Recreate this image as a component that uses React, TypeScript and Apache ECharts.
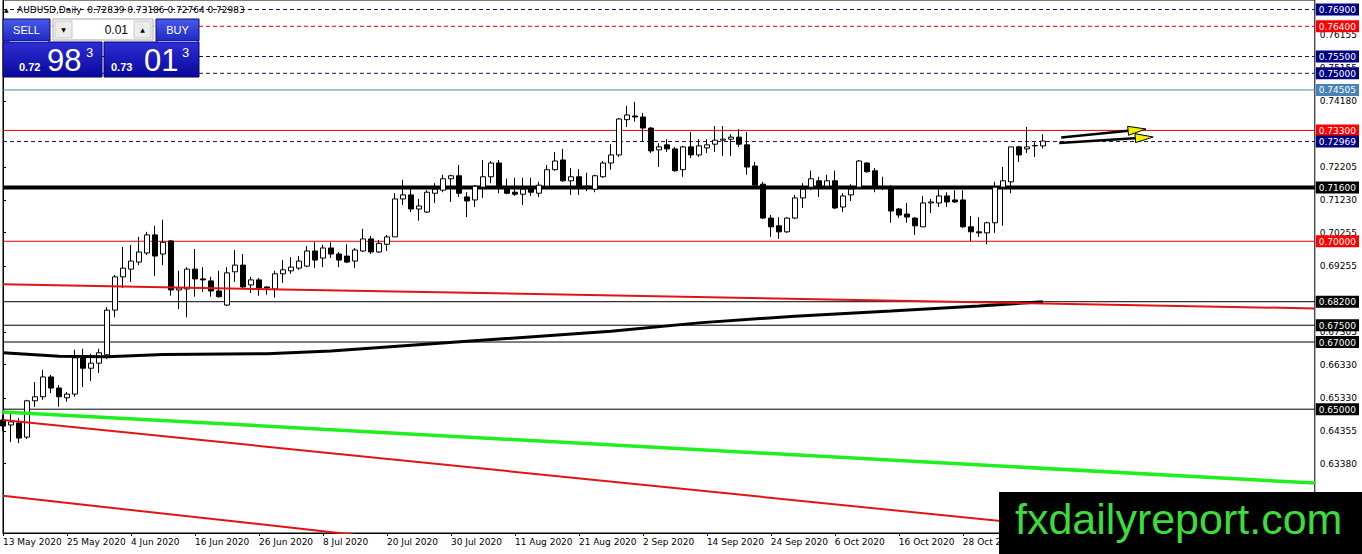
import React, { useEffect, useRef } from "react";
import * as echarts from "echarts";

// ---------- data ----------
const opens = [
  0.6468, 0.6453, 0.6459, 0.6417, 0.6525, 0.6537, 0.6596, 0.6563, 0.6534, 0.6545,
  0.6653, 0.6622, 0.6637, 0.6662, 0.6795, 0.6894, 0.6917, 0.6938, 0.6965, 0.7019,
  0.6962, 0.7001, 0.6855, 0.6858, 0.6917, 0.6888, 0.6882, 0.6852, 0.681, 0.6909,
  0.6929, 0.687, 0.6885, 0.6864, 0.6858, 0.6903, 0.6912, 0.692, 0.6926, 0.6971,
  0.695, 0.698, 0.6962, 0.6956, 0.6941, 0.6971, 0.7007, 0.6968, 0.6991, 0.7013,
  0.7126, 0.7138, 0.7096, 0.7087, 0.7143, 0.7152, 0.7186, 0.7195, 0.7132, 0.7123,
  0.7161, 0.7192, 0.7233, 0.7155, 0.7146, 0.714, 0.7155, 0.7143, 0.7164, 0.7213,
  0.7242, 0.718, 0.7192, 0.7164, 0.7155, 0.7192, 0.7233, 0.7257, 0.7362, 0.7373,
  0.737, 0.7337, 0.7272, 0.7287, 0.7275, 0.7213, 0.7281, 0.7257, 0.7278, 0.7289,
  0.7301, 0.7304, 0.731, 0.7287, 0.7224, 0.717, 0.7069, 0.7046, 0.7028, 0.7069,
  0.7129, 0.7161, 0.718, 0.7164, 0.718, 0.7102, 0.7138, 0.7161, 0.7233, 0.721,
  0.7161, 0.7158, 0.7096, 0.7081, 0.7069, 0.7043, 0.7114, 0.7114, 0.7135, 0.7123,
  0.7123, 0.7043, 0.7028, 0.7025, 0.7055, 0.7161, 0.7177, 0.7281, 0.7275, 0.7284,
  0.72839,
];
const closes = [
  0.645, 0.6462, 0.6414, 0.6525, 0.6537, 0.6596, 0.6563, 0.6537, 0.6545, 0.6653,
  0.6622, 0.6637, 0.6668, 0.6795, 0.6894, 0.692, 0.6941, 0.6968, 0.7019, 0.6956,
  0.6997, 0.6855, 0.6861, 0.6917, 0.6888, 0.6885, 0.6852, 0.6835, 0.6906, 0.6929,
  0.6864, 0.6885, 0.6861, 0.6861, 0.6903, 0.6915, 0.6923, 0.6941, 0.6971, 0.6944,
  0.698, 0.6962, 0.6944, 0.6938, 0.6974, 0.7007, 0.6968, 0.6994, 0.7013, 0.7126,
  0.7138, 0.7096, 0.7105, 0.7146, 0.7155, 0.7186, 0.7195, 0.7143, 0.712, 0.7164,
  0.7192, 0.7233, 0.7158, 0.7143, 0.714, 0.7155, 0.7146, 0.7167, 0.7213, 0.7239,
  0.718, 0.7192, 0.7158, 0.7161, 0.7195, 0.7233, 0.7257, 0.7364, 0.7376, 0.737,
  0.7337, 0.7269, 0.7281, 0.7275, 0.721, 0.7281, 0.7257, 0.7284, 0.7287, 0.7301,
  0.7304, 0.731, 0.7289, 0.7221, 0.7167, 0.7069, 0.7043, 0.7028, 0.7069, 0.7129,
  0.7155, 0.7186, 0.7161, 0.718, 0.7099, 0.7135, 0.7155, 0.7239, 0.7207, 0.7158,
  0.7159, 0.709, 0.7078, 0.7072, 0.7046, 0.7114, 0.7117, 0.7135, 0.7117, 0.7117,
  0.7043, 0.7028, 0.7025, 0.7055, 0.7161, 0.718, 0.7281, 0.7257, 0.7281, 0.7285,
  0.72983,
];
const lows = [
  0.6435, 0.6402, 0.6399, 0.6411, 0.6507, 0.6528, 0.6548, 0.6507, 0.6522, 0.6537,
  0.6566, 0.6584, 0.6608, 0.6649, 0.6774, 0.6861, 0.6879, 0.6929, 0.6959, 0.6897,
  0.6929, 0.6838, 0.6798, 0.6774, 0.6835, 0.6849, 0.6835, 0.6832, 0.6807, 0.6879,
  0.6861, 0.6846, 0.6838, 0.6841, 0.6832, 0.6876, 0.6903, 0.6915, 0.6923, 0.692,
  0.6923, 0.695, 0.6923, 0.6935, 0.692, 0.6968, 0.6962, 0.6965, 0.6971, 0.7013,
  0.7108, 0.7087, 0.7061, 0.7084, 0.7114, 0.7146, 0.7117, 0.7132, 0.7072, 0.7102,
  0.7129, 0.7173, 0.7143, 0.714, 0.7135, 0.7108, 0.7135, 0.7132, 0.7158, 0.721,
  0.7177, 0.7138, 0.7138, 0.7149, 0.7146, 0.7189, 0.7213, 0.7251, 0.734, 0.7356,
  0.7298, 0.7263, 0.7221, 0.7266, 0.7207, 0.7192, 0.7248, 0.7251, 0.7263, 0.7266,
  0.7254, 0.7254, 0.7281, 0.7198, 0.7161, 0.7066, 0.7013, 0.7007, 0.7025, 0.7066,
  0.7099, 0.7152, 0.7132, 0.7158, 0.7096, 0.7087, 0.712, 0.7161, 0.7204, 0.7146,
  0.7152, 0.7055, 0.7069, 0.7055, 0.7019, 0.7043, 0.7084, 0.7102, 0.7102, 0.7114,
  0.704, 0.7001, 0.7013, 0.6991, 0.7025, 0.7046, 0.7143, 0.7236, 0.7263, 0.7251,
  0.72764,
];
const highs = [
  0.6483, 0.6489, 0.6474, 0.6528, 0.6581, 0.6617, 0.6602, 0.6572, 0.6551, 0.6677,
  0.668, 0.6665, 0.668, 0.6804, 0.69, 0.6983, 0.6989, 0.7013, 0.7028, 0.7046,
  0.7064, 0.7004, 0.6912, 0.6923, 0.6977, 0.6923, 0.6894, 0.6912, 0.6923, 0.6974,
  0.6962, 0.6894, 0.6891, 0.6865, 0.6912, 0.6944, 0.6953, 0.6956, 0.6986, 0.6997,
  0.6989, 0.6997, 0.6968, 0.6991, 0.698, 0.7037, 0.7016, 0.7004, 0.7019, 0.7143,
  0.7183, 0.7161, 0.7126, 0.7152, 0.7173, 0.7198, 0.7198, 0.7227, 0.7146, 0.7167,
  0.7242, 0.7239, 0.7242, 0.7186, 0.7189, 0.7189, 0.7189, 0.7177, 0.7227, 0.7266,
  0.7275, 0.7218, 0.7215, 0.7204, 0.7198, 0.7239, 0.7289, 0.7367, 0.7403, 0.7415,
  0.7382, 0.734, 0.7292, 0.7304, 0.7281, 0.7284, 0.7325, 0.7304, 0.7304, 0.7343,
  0.7343, 0.7319, 0.7334, 0.7325, 0.7236, 0.7177, 0.7078, 0.7072, 0.7072, 0.7138,
  0.7173, 0.721, 0.7192, 0.7198, 0.721, 0.7143, 0.717, 0.7242, 0.7235, 0.7218,
  0.7192, 0.7167, 0.7099, 0.7114, 0.7072, 0.7135, 0.7126, 0.7155, 0.7146, 0.7152,
  0.7152, 0.7075, 0.7072, 0.7058, 0.7177, 0.7221, 0.7281, 0.7284, 0.734, 0.7295,
  0.73186,
];

// date tick labels, one every 8 bars
const dateTicks = [
  "13 May 2020", "25 May 2020", "4 Jun 2020", "16 Jun 2020", "26 Jun 2020", "8 Jul 2020",
  "20 Jul 2020", "30 Jul 2020", "11 Aug 2020", "21 Aug 2020", "2 Sep 2020", "14 Sep 2020",
  "24 Sep 2020", "6 Oct 2020", "16 Oct 2020", "28 Oct 2020",
];
const BARS_PER_TICK = 8;
const SLOT_COUNT = 165; // bars + empty right shift area

// price axis tick labels (those visible in the picture)
const priceTicks = [
  0.76155, 0.75155, 0.7418, 0.72205, 0.7123, 0.70255, 0.69255, 0.67305,
  0.6633, 0.6533, 0.64355, 0.6338,
];

// horizontal levels
const levelPrices = [0.769, 0.764, 0.755, 0.75, 0.74505, 0.733, 0.72969, 0.716, 0.7, 0.682, 0.675, 0.67, 0.65];
const levelKinds = [
  "navyDash", "redDash", "navyDash", "navyDash", "steel", "red", "navyDash", "blackThick",
  "red", "black", "black", "black", "black",
];

// moving average (sampled along the bars)
const maBars = [0, 7, 13, 20, 33, 41, 58, 76, 87, 99, 111, 122, 130];
const maValues = [0.6668, 0.6658, 0.6656, 0.6663, 0.6665, 0.6673, 0.6702, 0.6732, 0.6757, 0.6777, 0.6792, 0.6807, 0.682];

// trend lines: start bar / end bar with prices
const trendStartBar = 0;
const trendEndBar = 164;
const trendNames = ["redUpper", "green", "redMid", "redLow"];
const trendStartPrices = [0.6872, 0.6492, 0.6468, 0.6242];
const trendEndPrices = [0.68, 0.628, 0.6072, 0.581];
const trendColors = ["#e01414", "#1ef01e", "#e01414", "#e01414"];
const trendWidths = [2, 3.5, 2, 2];

// arrows
const arrowFromBars = [132.3, 132.05];
const arrowFromPrices = [0.73089, 0.72925];
const arrowToBars = [142.9, 143.8];
const arrowToPrices = [0.73342, 0.73104];

const bidPrice = "0.72983";
const askPrice = "0.73013";

// ---------- styling ----------
const FONT = '"DejaVu Sans", sans-serif';
const Y_MIN = 0.613141;
const Y_MAX = 0.771828;

const kindLine: Record<string, any> = {
  navyDash: { color: "#14145e", width: 1, type: [4, 3] },
  redDash: { color: "#e00000", width: 1, type: [4, 3] },
  steel: { color: "#4682b4", width: 1, type: "solid" },
  red: { color: "#e00000", width: 1, type: "solid" },
  blackThick: { color: "#000000", width: 4, type: "solid" },
  black: { color: "#000000", width: 1, type: "solid" },
};
const kindBg: Record<string, string> = {
  navyDash: "#000080",
  redDash: "#ff0000",
  steel: "#4682b4",
  red: "#ff0000",
  blackThick: "#000000",
  black: "#000000",
};

function buildOption() {
  const categories = Array.from({ length: SLOT_COUNT }, (_, i) => String(i));
  const candleData = opens.map((o, i) => [o, closes[i], lows[i], highs[i]]);

  const rich: Record<string, any> = {};
  Object.keys(kindBg).forEach((k) => {
    rich[k] = {
      backgroundColor: kindBg[k],
      color: "#ffffff",
      padding: [2, 3, 1, 3],
      fontSize: 9,
      fontFamily: FONT,
      lineHeight: 10,
    };
  });

  const levelSeries = levelPrices.map((p, i) => ({
    type: "line",
    xAxisIndex: 1,
    yAxisIndex: 0,
    data: [
      [0, p],
      [SLOT_COUNT - 1, p],
    ],
    symbol: "none",
    silent: true,
    z: 1,
    lineStyle: kindLine[levelKinds[i]],
  }));

  const trendSeries = trendNames.map((n, i) => ({
    name: n,
    type: "line",
    xAxisIndex: 1,
    yAxisIndex: 0,
    data: [
      [trendStartBar, trendStartPrices[i]],
      [trendEndBar, trendEndPrices[i]],
    ],
    symbol: "none",
    silent: true,
    clip: true,
    z: 3,
    lineStyle: { color: trendColors[i], width: trendWidths[i] },
  }));

  const last = opens.length - 1;
  const title =
    "AUDUSD,Daily  " +
    [opens[last], highs[last], lows[last], closes[last]].map((v) => v.toFixed(5)).join(" ");

  const grad = (a: string, b: string) =>
    new echarts.graphic.LinearGradient(0, 0, 0, 1, [
      { offset: 0, color: a },
      { offset: 1, color: b },
    ]);

  const txt = (x: number, y: number, text: string, font: string, fill: string, align = "left") => ({
    type: "text",
    x,
    y,
    z: 100,
    silent: true,
    style: {
      text,
      font,
      fill,
      align,
      textAlign: align,
      verticalAlign: "middle",
      textVerticalAlign: "middle",
    },
  });

  const bidHead = bidPrice.slice(0, 4);
  const bidBig = bidPrice.slice(4, 6);
  const bidPip = bidPrice.slice(6);
  const askHead = askPrice.slice(0, 4);
  const askBig = askPrice.slice(4, 6);
  const askPip = askPrice.slice(6);

  const graphics: any[] = [
    txt(4, 9.5, "▲", '6px "DejaVu Sans"', "#000"),
    txt(17, 9.5, title, '9px "DejaVu Sans"', "#000"),
    // SELL button
    { type: "rect", z: 100, silent: true, shape: { x: 3, y: 19, width: 47, height: 22 }, style: { fill: grad("#4a5ae8", "#1e2ac4"), stroke: "#0b0b86", lineWidth: 1 } },
    txt(26.5, 30, "SELL", '11px "Liberation Sans"', "#ffffff", "center"),
    // lot spinner
    { type: "rect", z: 100, silent: true, shape: { x: 53, y: 19, width: 100, height: 21 }, style: { fill: "#ffffff", stroke: "#a8a8a8", lineWidth: 1 } },
    { type: "rect", z: 100, silent: true, shape: { x: 55, y: 21, width: 17, height: 17 }, style: { fill: "#ececec", stroke: "#c8c8c8", lineWidth: 1 } },
    { type: "rect", z: 100, silent: true, shape: { x: 134, y: 21, width: 17, height: 17 }, style: { fill: "#ececec", stroke: "#c8c8c8", lineWidth: 1 } },
    txt(63.5, 29.5, "▼", '6px "DejaVu Sans"', "#000", "center"),
    txt(142.5, 29.5, "▲", '6px "DejaVu Sans"', "#000", "center"),
    txt(128, 30, "0.01", '12px "Liberation Sans"', "#000", "right"),
    // BUY button
    { type: "rect", z: 100, silent: true, shape: { x: 156, y: 19, width: 43, height: 22 }, style: { fill: grad("#4a5ae8", "#1e2ac4"), stroke: "#0b0b86", lineWidth: 1 } },
    txt(177.5, 30, "BUY", '11px "Liberation Sans"', "#ffffff", "center"),
    // price boxes
    { type: "rect", z: 100, silent: true, shape: { x: 3, y: 42, width: 99, height: 35 }, style: { fill: grad("#2e2ed6", "#08089a"), stroke: "#05056e", lineWidth: 1 } },
    { type: "rect", z: 100, silent: true, shape: { x: 104, y: 42, width: 95, height: 35 }, style: { fill: grad("#2e2ed6", "#08089a"), stroke: "#05056e", lineWidth: 1 } },
    { type: "line", z: 100, silent: true, shape: { x1: 10, y1: 41.5, x2: 48, y2: 41.5 }, style: { stroke: "#9aa4ff", lineWidth: 1 } },
    { type: "line", z: 100, silent: true, shape: { x1: 158, y1: 41.5, x2: 197, y2: 41.5 }, style: { stroke: "#9aa4ff", lineWidth: 1 } },
    txt(19, 67, bidHead, 'bold 11px "Liberation Sans"', "#ffffff"),
    txt(47, 60, bidBig, '31px "Liberation Sans"', "#ffffff"),
    txt(86, 52.5, bidPip, '13px "Liberation Sans"', "#ffffff"),
    txt(111, 67, askHead, 'bold 11px "Liberation Sans"', "#ffffff"),
    txt(144, 60, askBig, '31px "Liberation Sans"', "#ffffff"),
    txt(182, 52.5, askPip, '13px "Liberation Sans"', "#ffffff"),
    // watermark
    { type: "rect", z: 200, silent: true, shape: { x: 999, y: 492, width: 363, height: 62 }, style: { fill: "#000000" } },
    { type: "text", z: 201, silent: true, x: 1015, y: 519, style: { text: "fxdailyreport.com", font: '43px "Liberation Sans"', fill: "#3bdc3b", align: "left", textAlign: "left", verticalAlign: "middle", textVerticalAlign: "middle" } },
  ];

  return {
    animation: false,
    backgroundColor: "#ffffff",
    grid: { left: 2, right: 46, top: 0, bottom: 21, show: true, borderColor: "#000", borderWidth: 1, backgroundColor: "#ffffff" },
    xAxis: [
      {
        type: "category",
        data: categories,
        boundaryGap: false,
        axisLine: { show: true, lineStyle: { color: "#000" } },
        axisTick: { show: true, interval: BARS_PER_TICK - 1, length: 3, lineStyle: { color: "#000" } },
        axisLabel: {
          interval: BARS_PER_TICK - 1,
          formatter: (_v: string, i: number) => dateTicks[i / BARS_PER_TICK] ?? "",
          align: "left",
          margin: 4,
          color: "#000",
          fontSize: 9,
          fontFamily: FONT,
        },
        splitLine: { show: false },
      },
      { type: "value", min: 0, max: SLOT_COUNT - 1, show: false },
    ],
    yAxis: [
      {
        type: "value",
        position: "right",
        min: Y_MIN,
        max: Y_MAX,
        axisLine: { show: true, lineStyle: { color: "#000" } },
        axisTick: { show: true, customValues: priceTicks, length: 3, lineStyle: { color: "#000" } },
        axisLabel: {
          customValues: priceTicks,
          formatter: (v: number) => v.toFixed(5),
          color: "#000",
          fontSize: 9,
          fontFamily: FONT,
          margin: 5,
        },
        splitLine: { show: false },
      },
      {
        type: "value",
        position: "right",
        min: Y_MIN,
        max: Y_MAX,
        z: 5,
        axisLine: { show: false },
        axisTick: { show: false },
        axisLabel: {
          customValues: levelPrices,
          formatter: (v: number) => {
            const i = levelPrices.findIndex((p) => Math.abs(p - v) < 1e-7);
            return i < 0 ? "" : `{${levelKinds[i]}|${v.toFixed(5)}}`;
          },
          rich,
          margin: 1,
          fontSize: 9,
          fontFamily: FONT,
        },
        splitLine: { show: false },
      },
    ],
    series: [
      ...levelSeries,
      {
        type: "candlestick",
        xAxisIndex: 0,
        yAxisIndex: 0,
        data: candleData,
        barWidth: 5,
        clip: true,
        silent: true,
        z: 2,
        itemStyle: {
          color: "#ffffff",
          color0: "#000000",
          borderColor: "#000000",
          borderColor0: "#000000",
          borderColorDoji: "#000000",
          borderWidth: 1,
        },
      },
      {
        type: "line",
        xAxisIndex: 1,
        yAxisIndex: 0,
        data: maBars.map((b, i) => [b, maValues[i]]),
        symbol: "none",
        silent: true,
        z: 3,
        lineStyle: { color: "#000", width: 3 },
      },
      ...trendSeries,
      {
        type: "custom",
        xAxisIndex: 1,
        yAxisIndex: 0,
        z: 4,
        silent: true,
        data: arrowFromBars.map((b, i) => [b, arrowFromPrices[i], arrowToBars[i], arrowToPrices[i]]),
        encode: { x: [0, 2], y: [1, 3] },
        renderItem: (_p: any, api: any) => {
          const s = api.coord([api.value(0), api.value(1)]);
          const e = api.coord([api.value(2), api.value(3)]);
          const dx = e[0] - s[0];
          const dy = e[1] - s[1];
          const len = Math.hypot(dx, dy) || 1;
          const ux = dx / len;
          const uy = dy / len;
          const headLen = 18;
          const half = 4.5;
          const bx = e[0] - ux * headLen;
          const by = e[1] - uy * headLen;
          const nx = -uy;
          const ny = ux;
          return {
            type: "group",
            children: [
              { type: "line", shape: { x1: s[0], y1: s[1], x2: bx + ux * 3, y2: by + uy * 3 }, style: { stroke: "#000", lineWidth: 2.5 } },
              {
                type: "polygon",
                shape: { points: [[e[0], e[1]], [bx + nx * half, by + ny * half], [bx - nx * half, by - ny * half]] },
                style: { fill: "#f2f200", stroke: "#000", lineWidth: 1 },
              },
            ],
          };
        },
      },
    ],
    graphic: { elements: graphics },
  };
}

export default function App() {
  const ref = useRef<HTMLDivElement>(null);
  useEffect(() => {
    if (!ref.current) return;
    const chart = echarts.init(ref.current, null, { renderer: "svg" });
    chart.setOption(buildOption() as any);
    return () => chart.dispose();
  }, []);
  return (
    <div
      ref={ref}
      style={{ position: "fixed", left: 0, top: 0, width: 1362, height: 554, background: "#fff" }}
    />
  );
}
